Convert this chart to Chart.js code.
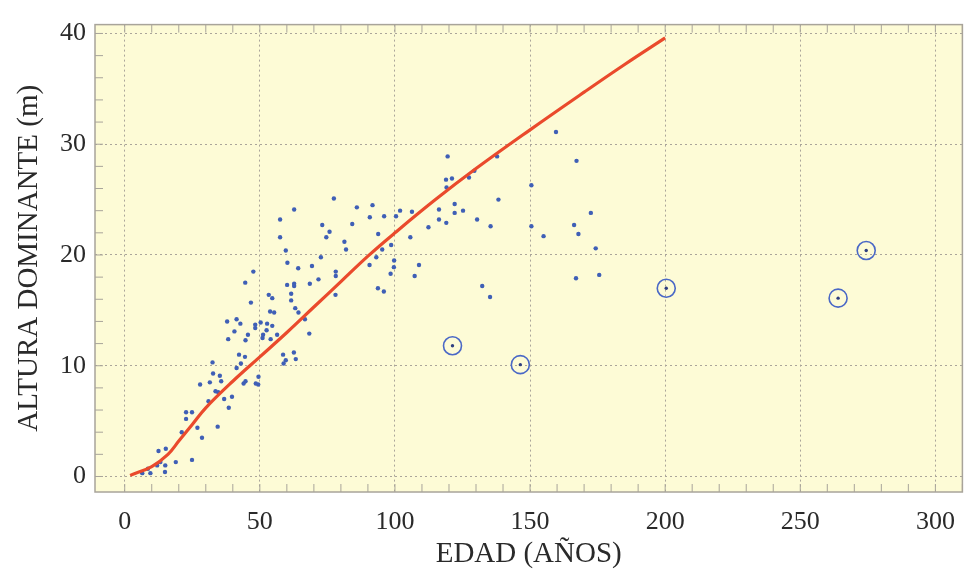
<!DOCTYPE html>
<html>
<head>
<meta charset="utf-8">
<script src="https://cdn.jsdelivr.net/npm/chart.js@4/dist/chart.umd.min.js"></script>
<style>
    html, body { margin: 0; padding: 0; background: #ffffff; }
    #wrap { width: 973px; height: 576px; }
</style>
</head>
<body>
<div id="wrap"><canvas id="scatterChart"></canvas></div>
<script>
// curva ajustada
const curveX = [2, 10, 16, 20, 25, 30, 40, 50, 60, 70, 80, 90, 100, 115, 130, 150, 170, 185, 200];
const curveY = [0.1, 0.9, 2.0, 3.2, 4.7, 6.2, 8.6, 10.8, 13.0, 15.3, 17.6, 19.9, 22.0, 25.0, 27.8, 31.3, 34.7, 37.2, 39.6];

// parcelas
const edad = [
    6.5, 9.5, 8.6, 12, 13.2, 15, 14.9, 12.5, 15.2, 18.9, 24.9, 21.1, 26.9, 28.6, 22.7, 22.7, 24.9, 31, 27.9, 31.5,
    32.5, 32.7, 33.6, 34.6, 35.2, 35.7, 34.4, 36.8, 38.5, 39.7, 38.3, 42.3, 44.5, 41.4, 43, 44, 44.7, 44.7, 45.6,
    59.6, 72.6, 60.2, 64.2, 69.3, 71.7, 68.5, 60.1, 62.7, 62.7, 61.6, 61.6, 63.1, 64.3, 66.7, 68.3, 47.6, 44.6,
    53.3, 54.6, 46.7, 53.8, 55.3, 41.4, 37.9, 42.8, 48.3, 48.3, 50.3, 52.7, 54.6, 40.6, 51.2, 52.5, 56.4, 51, 54,
    58.6, 62.6, 59.6, 63.3, 58.8, 49.5, 49.4, 48.5,
    77.4, 62.7, 57.5, 57.5, 73.1, 75.8, 74.6, 85.9, 91.7, 90.7, 96, 100.4, 101.9, 106.3, 112.4, 105.7, 84.2, 81.3,
    81.9, 93.8, 95.3, 98.6, 93.1, 90.6, 99.6, 99.7, 98.4, 108.9, 107.3, 93.7, 95.9, 78.1, 78.1, 78,
    159.6, 119.5, 137.8, 167.2, 129.4, 127.4, 121.1, 118.9, 119.1, 150.5, 138.3, 122.1, 122.1, 125.2, 116.3, 116.3,
    119, 130.4, 135.4, 150.5, 155, 172.5, 166.3, 167.9, 174.3, 167, 175.6, 132.3, 135.2
];
const altura = [
    0.3, 0.3, 0.7, 1.0, 1.3, 1.0, 0.4, 2.3, 2.5, 1.3, 1.5, 4.0, 4.4, 3.5, 5.8, 5.2, 5.8, 6.8, 8.3, 8.5,
    10.3, 9.3, 7.7, 7.6, 9.1, 8.6, 4.5, 7.0, 6.2, 7.2, 12.4, 11.0, 10.8, 9.8, 10.2, 8.4, 8.6, 12.3, 12.8,
    20.4, 19.8, 19.3, 18.8, 19.0, 17.8, 17.4, 17.3, 17.4, 17.2, 16.5, 15.9, 15.2, 14.8, 14.2, 12.9, 18.5, 17.5,
    16.4, 16.1, 15.7, 14.9, 14.8, 14.2, 14.0, 13.8, 13.7, 13.4, 13.9, 13.8, 13.6, 13.1, 12.8, 13.2, 12.8, 12.5, 12.4,
    11.0, 11.2, 10.5, 10.6, 10.2, 9.0, 8.3, 8.4,
    25.1, 24.1, 23.2, 21.6, 22.7, 22.1, 21.6, 24.3, 24.5, 23.4, 23.5, 23.5, 24.0, 23.9, 22.5, 21.6, 22.8, 21.2,
    20.5, 21.9, 20.5, 20.9, 19.8, 19.1, 18.9, 19.5, 18.3, 19.1, 18.1, 17.0, 16.7, 18.5, 18.1, 16.4,
    31.1, 28.9, 28.9, 28.5, 27.6, 27.0, 26.9, 26.8, 26.1, 26.3, 25.0, 24.6, 23.8, 24.0, 24.1, 23.2,
    22.9, 23.2, 22.6, 22.6, 21.7, 23.8, 22.7, 21.9, 20.6, 17.9, 18.2, 17.2, 16.2
];

// parcelas marcadas con círculo
const edadMarcada = [121.3, 146.4, 200.4, 264, 274.4];
const alturaMarcada = [11.8, 10.1, 17.0, 16.1, 20.4];

const xTicks = [0, 50, 100, 150, 200, 250, 300];
const yTicks = [0, 10, 20, 30, 40];

const toPoints = (xs, ys) => xs.map((x, i) => ({ x: x, y: ys[i] }));

const fondo = {
    id: 'fondo',
    beforeDraw(chart) {
        const { ctx, chartArea: a } = chart;
        ctx.save();
        ctx.fillStyle = '#fdfbd6';
        ctx.fillRect(a.left, a.top, a.right - a.left, a.bottom - a.top);
        ctx.restore();
    },
    afterDatasetsDraw(chart) {
        const { ctx, chartArea: a, scales } = chart;
        ctx.save();
        ctx.strokeStyle = '#a8a49a';
        ctx.lineWidth = 1.5;
        ctx.strokeRect(a.left, a.top, a.right - a.left, a.bottom - a.top);
        ctx.lineWidth = 1;
        ctx.beginPath();
        for (let v = 0; v <= 310; v += 10) {
            const px = scales.x.getPixelForValue(v);
            ctx.moveTo(px, a.bottom); ctx.lineTo(px, a.bottom - 8);
            ctx.moveTo(px, a.top); ctx.lineTo(px, a.top + 8);
        }
        for (let v = 0; v <= 40; v += 2) {
            const py = scales.y.getPixelForValue(v);
            ctx.moveTo(a.left, py); ctx.lineTo(a.left + 8, py);
        }
        ctx.stroke();
        ctx.restore();
    }
};

const familia = '"Liberation Serif", "DejaVu Serif", serif';
const fuenteTicks = { family: familia, size: 26 };
const fuenteTitulo = { family: familia, size: 29 };

new Chart(document.getElementById('scatterChart'), {
    type: 'scatter',
    data: {
        datasets: [
            {
                type: 'line',
                data: toPoints(curveX, curveY),
                borderColor: '#ea4a2c',
                borderWidth: 3.2,
                pointRadius: 0,
                tension: 0.4,
                fill: false,
                order: 1
            },
            {
                data: toPoints(edad, altura),
                pointRadius: 2.2,
                pointBackgroundColor: '#3f5fb6',
                pointBorderWidth: 0,
                order: 2
            },
            {
                data: toPoints(edadMarcada, alturaMarcada),
                pointRadius: 9,
                pointBackgroundColor: 'rgba(0,0,0,0)',
                pointBorderColor: '#4a68c6',
                pointBorderWidth: 1.6,
                order: 2
            },
            {
                data: toPoints(edadMarcada, alturaMarcada),
                pointRadius: 1.7,
                pointBackgroundColor: '#2f3f80',
                pointBorderWidth: 0,
                order: 2
            }
        ]
    },
    plugins: [fondo],
    options: {
        responsive: true,
        maintainAspectRatio: false,
        animation: false,
        layout: { padding: { left: 0, top: 15, right: 8, bottom: 0 } },
        plugins: {
            legend: { display: false },
            tooltip: { enabled: false }
        },
        scales: {
            x: {
                type: 'linear',
                min: -11,
                max: 310,
                afterBuildTicks: (scale) => { scale.ticks = xTicks.map(v => ({ value: v })); },
                afterFit: (scale) => { scale.height = 84; },
                grid: { color: '#aaa59a', lineWidth: 1, drawTicks: false },
                border: { display: false, dash: [2, 3] },
                ticks: { color: '#2a2a2a', font: fuenteTicks, padding: 15, maxRotation: 0 },
                title: {
                    display: true,
                    text: 'EDAD (AÑOS)',
                    color: '#2a2a2a',
                    font: fuenteTitulo,
                    padding: { top: 0, bottom: 4 }
                }
            },
            y: {
                min: -1.4,
                max: 40.8,
                afterBuildTicks: (scale) => { scale.ticks = yTicks.map(v => ({ value: v })); },
                afterFit: (scale) => { scale.width = 95; },
                grid: { color: '#aaa59a', lineWidth: 1, drawTicks: false },
                border: { display: false, dash: [2, 3] },
                ticks: { color: '#2a2a2a', font: fuenteTicks, padding: 9 },
                title: {
                    display: true,
                    text: 'ALTURA DOMINANTE (m)',
                    color: '#2a2a2a',
                    font: fuenteTitulo,
                    padding: { top: 12, bottom: 0 }
                }
            }
        }
    }
});
</script>
</body>
</html>
